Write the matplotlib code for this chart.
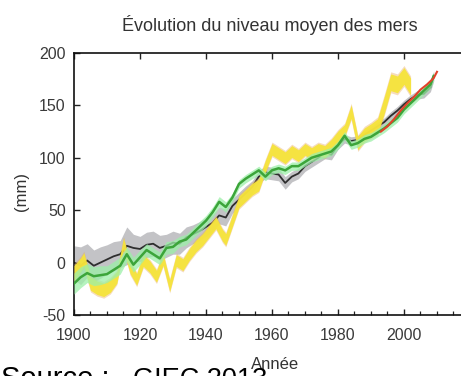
import matplotlib
matplotlib.use("Agg")
import matplotlib.pyplot as plt
import numpy as np
from matplotlib.ticker import FixedLocator, MultipleLocator

plt.rcParams['font.family'] = ['Liberation Sans', 'DejaVu Sans']
plt.rcParams['axes.unicode_minus'] = False

# Reconstructed global mean sea level (mm)
years_black = [1900, 1902, 1904, 1906, 1908, 1910, 1912, 1914, 1916, 1918, 1920, 1922, 1924,
               1926, 1928, 1930, 1932, 1934, 1936, 1938, 1940, 1942, 1944, 1946, 1948, 1950,
               1952, 1954, 1956, 1958, 1960, 1962, 1964, 1966, 1968, 1970, 1972, 1974, 1976,
               1978, 1980, 1982, 1984, 1986, 1988, 1990, 1992, 1994, 1996, 1998, 2000, 2002,
               2004, 2006, 2008, 2009]
level_black = [0, -3, 2, -3, 0, 3, 6, 8, 16, 14, 13, 17, 18,
               14, 16, 19, 18, 24, 27, 30, 34, 38, 45, 43, 54, 60,
               66, 72, 82, 86, 85, 84, 76, 82, 85, 92, 96, 100, 104,
               103, 112, 118, 116, 117, 122, 126, 130, 134, 140, 145, 151, 156,
               160, 161, 167, 178]
unc_black = [16, 18, 16, 15, 15, 14, 14, 13, 18, 13, 12, 12, 12,
             12, 11, 11, 10, 10, 9, 9, 9, 8, 8, 8, 7, 7,
             7, 6, 6, 6, 6, 6, 6, 5, 5, 5, 5, 5, 5,
             5, 4, 4, 4, 4, 4, 4, 4, 4, 4, 4, 4, 4,
             4, 4, 4, 5]

years_yellow = [1900, 1902, 1903, 1905, 1907, 1909, 1911, 1913, 1915, 1917, 1919, 1921, 1923,
                1925, 1927, 1929, 1931, 1933, 1935, 1937, 1939, 1941, 1943, 1945, 1946, 1948,
                1950, 1952, 1954, 1956, 1958, 1960, 1962, 1964, 1966, 1968, 1970, 1972, 1974,
                1976, 1978, 1980, 1982, 1984, 1986, 1988, 1990, 1992, 1994, 1996, 1998, 2000,
                2002]
level_yellow = [-10, -2, 3, -20, -24, -26, -22, -14, 18, -5, -16, 2, -4,
                -13, 3, -22, 2, -2, 8, 16, 22, 30, 38, 26, 22, 40,
                58, 64, 70, 74, 92, 108, 104, 100, 106, 102, 108, 104, 108,
                106, 112, 120, 126, 144, 114, 122, 126, 130, 150, 172, 170, 178,
                168]
unc_yellow = [9, 8, 8, 8, 8, 8, 8, 7, 7, 7, 7, 7, 7,
              7, 7, 7, 7, 7, 7, 7, 7, 7, 7, 7, 7, 7,
              7, 7, 7, 7, 7, 7, 7, 7, 7, 7, 7, 7, 7,
              7, 7, 7, 7, 8, 8, 8, 8, 9, 10, 10, 10, 10,
              10]

years_green = [1900, 1902, 1904, 1906, 1908, 1910, 1912, 1914, 1916, 1918, 1920, 1922, 1924,
               1926, 1928, 1930, 1932, 1934, 1936, 1938, 1940, 1942, 1944, 1946, 1948, 1950,
               1952, 1954, 1956, 1958, 1960, 1962, 1964, 1966, 1968, 1970, 1972, 1974, 1976,
               1978, 1980, 1982, 1984, 1986, 1988, 1990, 1992, 1994, 1996, 1998, 2000, 2002,
               2004, 2006, 2008, 2009]
level_green = [-20, -14, -10, -13, -12, -11, -7, -3, 8, -2, 5, 12, 8,
               4, 14, 15, 20, 22, 28, 34, 40, 48, 58, 53, 62, 75,
               80, 84, 88, 82, 88, 90, 88, 92, 92, 96, 100, 102, 104,
               106, 112, 121, 112, 114, 118, 120, 124, 128, 133, 138, 146, 152,
               158, 164, 170, 178]
unc_green = [10, 10, 9, 9, 9, 8, 8, 8, 7, 7, 7, 6, 6,
             6, 6, 6, 5, 5, 5, 5, 5, 5, 5, 5, 4, 4,
             4, 4, 4, 4, 4, 4, 4, 4, 4, 4, 4, 4, 4,
             4, 4, 4, 4, 4, 4, 4, 4, 4, 4, 4, 4, 4,
             4, 4, 4, 4]

years_red = [1993, 1995, 1997, 1999, 2001, 2003, 2005, 2007, 2009, 2010]
level_red = [125, 130, 137, 145, 152, 158, 165, 170, 176, 182]

year_ticks = [1900, 1920, 1940, 1960, 1980, 2000]

fig = plt.figure(figsize=(4.61, 3.76), dpi=100)
ax = fig.add_axes([0.1605, 0.1622, 0.859, 0.697])


def band(x, y, u, color, alpha, z):
    y = np.asarray(y, float)
    u = np.asarray(u, float)
    ax.fill_between(x, y - u, y + u, color=color, alpha=alpha, lw=0, zorder=z)


band(years_black, level_black, unc_black, '#b4b4b8', 0.8, 1)
ax.plot(years_black, level_black, color='#2e2e2e', lw=1.3, zorder=2)
band(years_yellow, level_yellow, unc_yellow, '#e8a85a', 0.4, 3)
band(years_yellow, level_yellow, np.asarray(unc_yellow) * 0.8, '#f6e43a', 0.95, 3)
band(years_green, level_green, unc_green, '#9cf0a8', 0.75, 4)
ax.plot(years_green, level_green, color='#3ca53a', lw=1.8, zorder=5)
ax.plot(years_red, level_red, color='#e2412a', lw=1.5, zorder=6)

ax.set_xlim(1900, 2020)
ax.set_ylim(-50, 200)
ax.xaxis.set_major_locator(FixedLocator(year_ticks))
ax.xaxis.set_minor_locator(MultipleLocator(5))
ax.yaxis.set_major_locator(MultipleLocator(50))
ax.tick_params(which='both', direction='in', top=True, right=False,
               colors='#222222', labelcolor='#3a3a3a', labelsize=11.5)
ax.tick_params(which='major', length=4, width=1.0)
ax.tick_params(which='minor', length=3, width=0.9, top=False)
ax.tick_params(axis='x', pad=9)
ax.tick_params(axis='y', pad=6)
for s in ax.spines.values():
    s.set_linewidth(1.2)
    s.set_color('#111111')
ax.spines['right'].set_visible(False)

fig.text(0.585, 0.934, 'Évolution du niveau moyen des mers', ha='center', va='center',
         fontsize=13, color='#333333')
fig.text(0.046, 0.49, '(mm)', rotation=90, ha='center', va='center', fontsize=12, color='#333333')
fig.text(0.597, 0.03, 'Année', ha='center', va='center', fontsize=12, color='#333333')
fig.text(0.002, -0.029, 'Source :', ha='left', va='baseline', fontsize=21,
         color='black')
fig.text(0.289, -0.029, 'GIEC 2013', ha='left', va='baseline', fontsize=19.5,
         color='black')

fig.savefig('out.png', dpi=100)
